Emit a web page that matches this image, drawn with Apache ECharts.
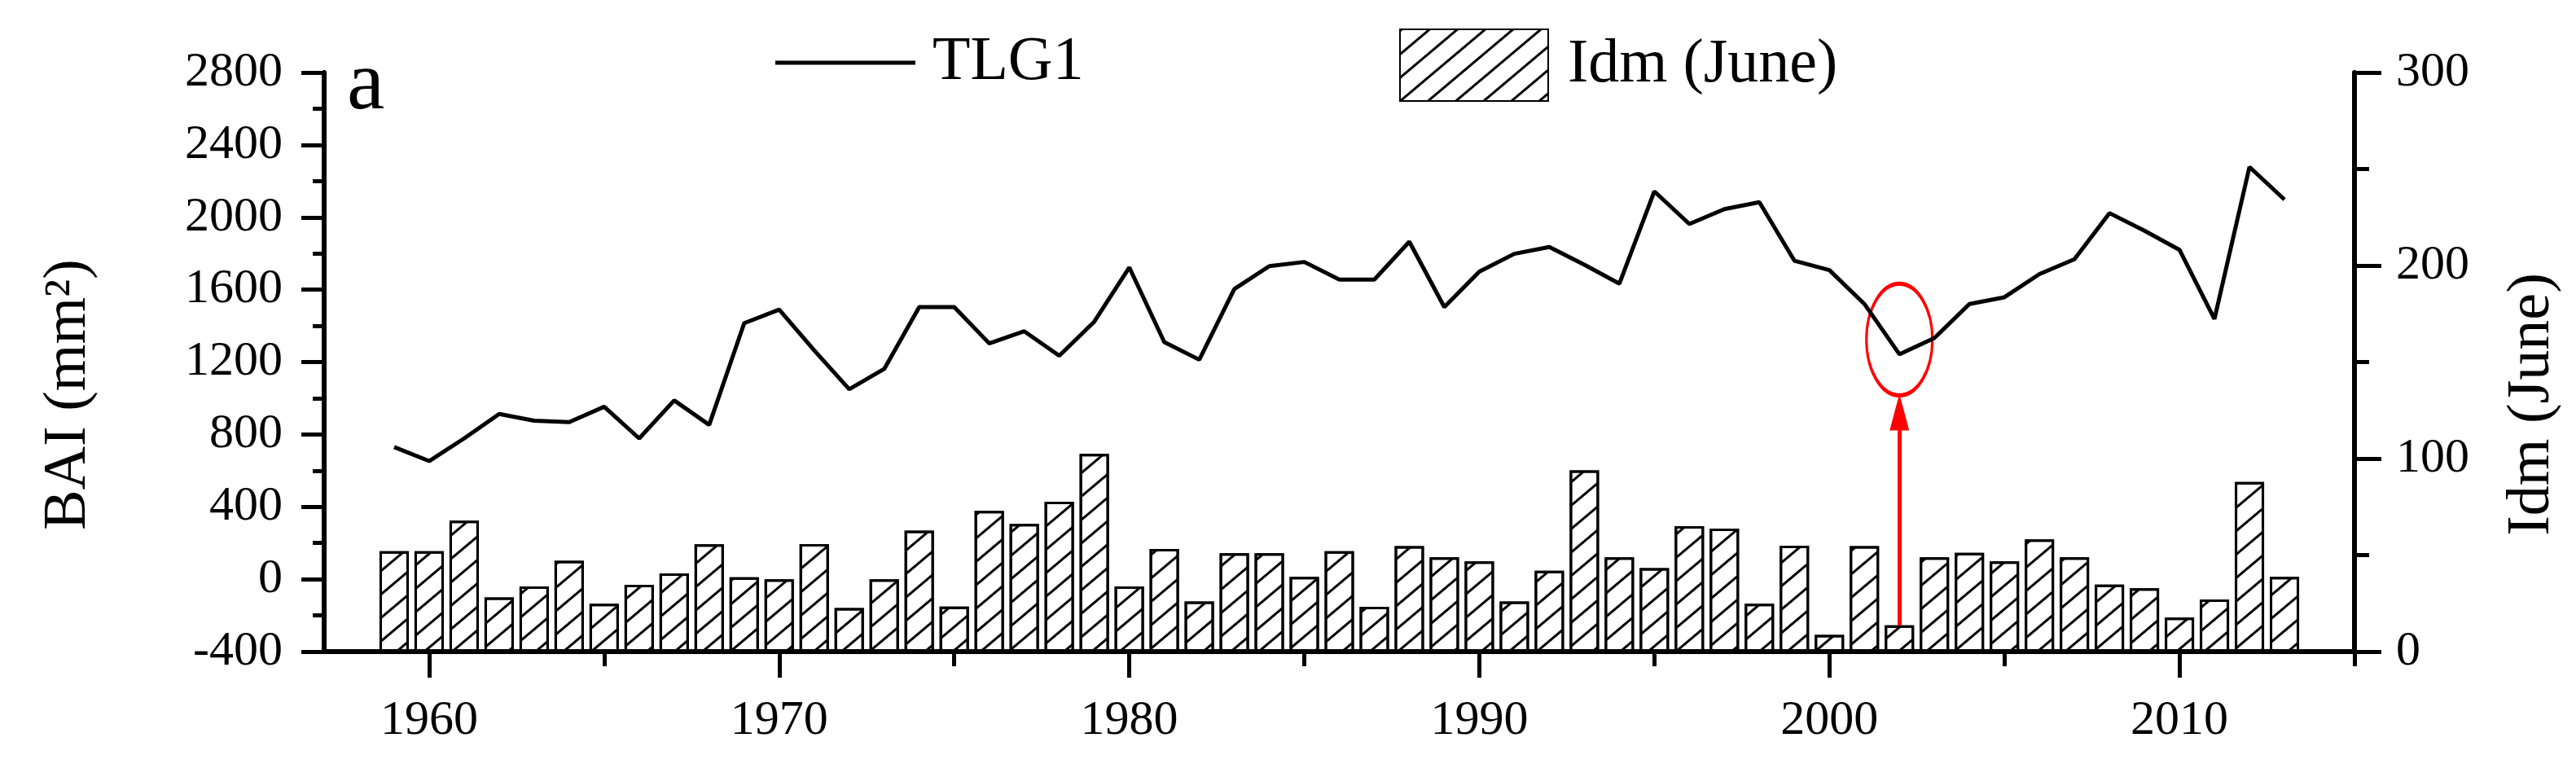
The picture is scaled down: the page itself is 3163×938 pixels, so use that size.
<!DOCTYPE html>
<html>
<head>
<meta charset="utf-8">
<script src="https://cdn.jsdelivr.net/npm/echarts@6/dist/echarts.min.js"></script>
<style>
  html, body { margin: 0; padding: 0; background: #fff; }
  #chart { width: 3163px; height: 938px; }
</style>
</head>
<body>
<div id="chart"></div>
<script>
// data
const years = [1959, 1960, 1961, 1962, 1963, 1964, 1965, 1966, 1967, 1968,
               1969, 1970, 1971, 1972, 1973, 1974, 1975, 1976, 1977, 1978,
               1979, 1980, 1981, 1982, 1983, 1984, 1985, 1986, 1987, 1988,
               1989, 1990, 1991, 1992, 1993, 1994, 1995, 1996, 1997, 1998,
               1999, 2000, 2001, 2002, 2003, 2004, 2005, 2006, 2007, 2008,
               2009, 2010, 2011, 2012, 2013];
// BAI of TLG1 (mm2), left axis
const bai = [730, 653, 778, 913, 876, 868, 953, 778, 988, 853,
             1415, 1490, 1265, 1050, 1162, 1504, 1504, 1303, 1370, 1235,
             1423, 1723, 1310, 1213, 1603, 1730, 1753, 1656, 1656, 1865,
             1504, 1700, 1798, 1836, 1738, 1633, 2143, 1963, 2045, 2083,
             1760, 1708, 1521, 1243, 1333, 1521, 1558, 1686, 1768, 2023,
             1926, 1820, 1438, 2278, 2098];
// Idm (June), right axis
const idm = [52.0, 52.0, 67.8, 28.1, 33.8, 47.0, 24.8, 34.6, 40.5, 55.6,
             38.5, 37.4, 55.7, 22.6, 37.4, 62.7, 23.3, 72.9, 66.1, 77.6,
             102.4, 33.8, 53.2, 25.9, 50.9, 50.9, 38.7, 52.0, 23.2, 54.6,
             48.8, 46.7, 25.9, 41.9, 93.9, 48.8, 43.3, 65.0, 63.7, 24.8,
             54.8, 8.7, 54.6, 13.6, 48.8, 51.2, 46.7, 58.1, 48.8, 34.7,
             32.8, 17.6, 27.0, 87.9, 38.7];
const xMajorTicks = [1960, 1970, 1980, 1990, 2000, 2010];
const xMinorTicks = [1965, 1975, 1985, 1995, 2005, 2015];

// the red annotation in the figure
const markYear = 2002;
const circleBai = 1324;
const arrowTopIdm = 124;

const FONT = '"Liberation Serif", "Times New Roman", serif';
const black = '#000';

const hatch = {
    symbol: 'rect',
    symbolSize: 1,
    dashArrayX: [1, 0],
    dashArrayY: [3, 19],
    rotation: -0.7,
    color: black
};

const chart = echarts.init(document.getElementById('chart'));

const tickLine = { color: black, width: 5 };
const labelStyle = { fontSize: 60, fontFamily: FONT, color: black, formatter: v => String(v) };

const option = {
    animation: false,
    backgroundColor: '#fff',
    grid: { left: 398, right: 272, top: 89, bottom: 138, outerBoundsMode: 'none' },
    legend: [
        {
            data: [{ name: 'TLG1', icon: 'rect' }],
            left: 947, top: 34,
            itemWidth: 172, itemHeight: 5,
            itemStyle: { color: black, borderWidth: 0 },
            selectedMode: false,
            textStyle: { fontSize: 76, fontFamily: FONT, color: black, padding: [0, 0, 0, 16] }
        },
        {
            data: [{ name: 'Idm (June)', icon: 'rect' }],
            left: 1713, top: 30,
            itemWidth: 182, itemHeight: 88,
            selectedMode: false,
            textStyle: { fontSize: 76, fontFamily: FONT, color: black, padding: [0, 0, 0, 19] }
        }
    ],
    xAxis: [
        {
            type: 'value', min: 1957, max: 2015,
            axisLine: { show: true, onZero: false, lineStyle: { color: black, width: 6 } },
            axisTick: { show: true, length: 32, customValues: xMajorTicks, lineStyle: tickLine },
            axisLabel: { customValues: xMajorTicks, margin: 55, ...labelStyle },
            splitLine: { show: false }
        },
        {
            type: 'value', min: 1957, max: 2015, position: 'bottom',
            axisLine: { show: false, onZero: false },
            axisTick: { show: true, length: 18, customValues: xMinorTicks, lineStyle: tickLine },
            axisLabel: { show: false },
            splitLine: { show: false }
        }
    ],
    yAxis: [
        {
            type: 'value', min: -400, max: 2800, interval: 400, position: 'left',
            name: 'BAI (mm²)', nameLocation: 'middle', nameRotate: 90, nameGap: 276,
            nameTextStyle: { fontSize: 74, fontFamily: FONT, color: black, padding: [0, 80, 0, 0] },
            axisLine: { show: true, onZero: false, lineStyle: { color: black, width: 6 } },
            axisTick: { show: true, length: 28, lineStyle: tickLine },
            minorTick: { show: true, splitNumber: 2, length: 14, lineStyle: tickLine },
            axisLabel: { margin: 51, ...labelStyle },
            splitLine: { show: false }
        },
        {
            type: 'value', min: 0, max: 300, interval: 100, position: 'right',
            name: 'Idm (June)', nameLocation: 'middle', nameRotate: 90, nameGap: 182,
            nameTextStyle: { fontSize: 74, fontFamily: FONT, color: black, padding: [0, 104, 0, 0] },
            axisLine: { show: true, onZero: false, lineStyle: { color: black, width: 6 } },
            axisTick: { show: true, length: 33, lineStyle: tickLine },
            minorTick: { show: true, splitNumber: 2, length: 18, lineStyle: tickLine },
            axisLabel: { margin: 51, ...labelStyle },
            splitLine: { show: false }
        }
    ],
    graphic: [
        {
            type: 'text', left: 426, top: 54,
            style: { text: 'a', font: '104px ' + FONT, fill: black }
        }
    ],
    series: [
        {
            name: 'Idm (June)',
            type: 'bar',
            xAxisIndex: 0, yAxisIndex: 1,
            barWidth: 36,
            data: years.map((y, i) => [y, idm[i]]),
            itemStyle: { color: '#fff', borderColor: black, borderWidth: 3, decal: hatch },
            markLine: {
                silent: true,
                symbol: ['none', 'triangle'],
                label: { show: false },
                lineStyle: { color: '#ff0000', width: 5, type: 'solid' },
                data: [[
                    { coord: [markYear, idm[years.indexOf(markYear)]] },
                    { coord: [markYear, arrowTopIdm], symbol: 'triangle', symbolSize: [24, 45] }
                ]]
            }
        },
        {
            name: 'TLG1',
            type: 'line',
            xAxisIndex: 0, yAxisIndex: 0,
            symbol: 'none',
            z: 5,
            data: years.map((y, i) => [y, bai[i]]),
            lineStyle: { color: black, width: 5 },
            itemStyle: { color: black },
            markPoint: {
                silent: true,
                symbol: 'circle',
                symbolSize: [81, 137],
                label: { show: false },
                itemStyle: { color: 'rgba(0,0,0,0)', borderColor: '#ff0000', borderWidth: 4 },
                data: [{ coord: [markYear, circleBai] }]
            }
        }
    ]
};

chart.setOption(option);
</script>
</body>
</html>
